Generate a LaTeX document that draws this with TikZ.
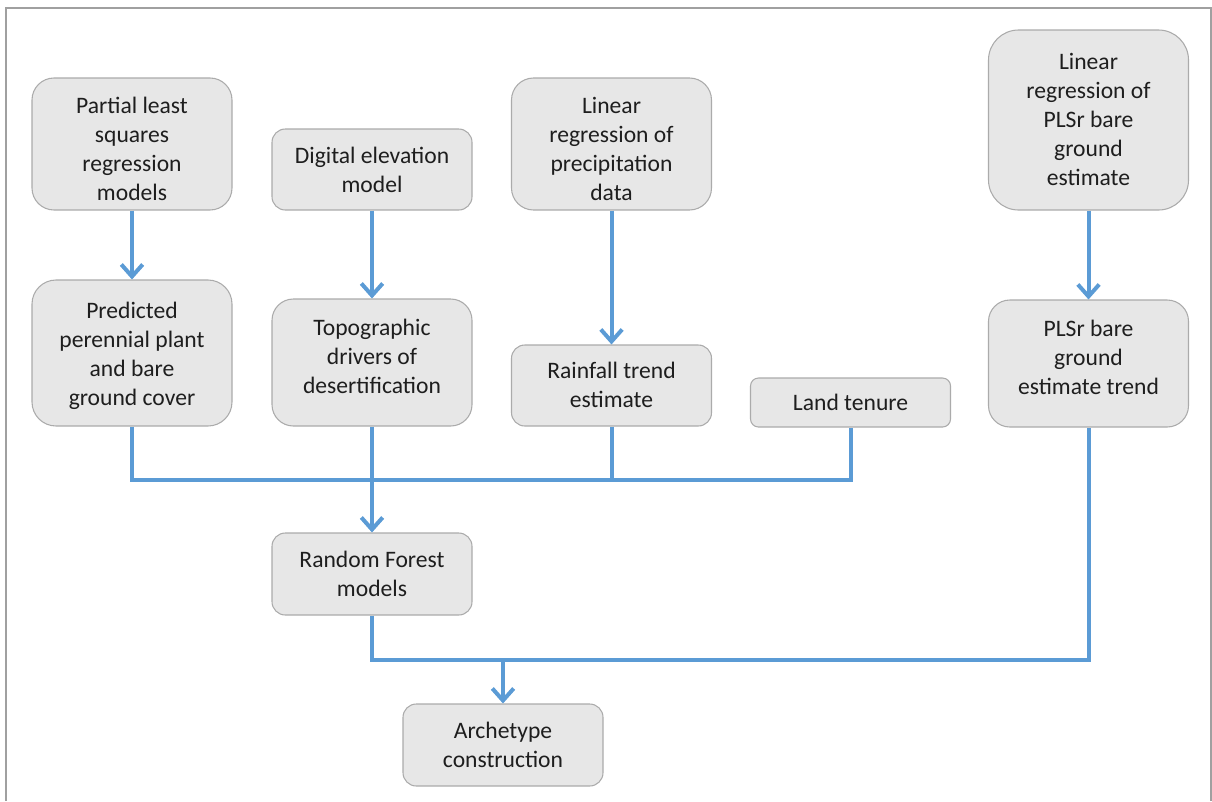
\documentclass[tikz,border=0pt]{standalone}
\usepackage{fontspec}
\setmainfont{Carlito}
\usetikzlibrary{arrows.meta}
\definecolor{boxfill}{HTML}{E7E7E7}
\definecolor{boxline}{HTML}{ABABAB}
\definecolor{flow}{HTML}{5B9BD5}
\definecolor{ink}{HTML}{1E1E1E}
\definecolor{frame}{HTML}{A0A0A0}
\begin{document}
\begin{tikzpicture}[x=0.75pt,y=-0.75pt,
  stepbox/.style={draw=boxline,line width=0.8pt,fill=boxfill,
    minimum width=150pt,inner sep=0pt},
  txt/.style={text=ink,inner sep=0pt,align=center,
    font=\fontsize{17.7pt}{21.75pt}\selectfont},
  % box with its text, the text moved down by the given amount (pt)
  say/.style 2 args={label={[txt,yshift=-#1]center:{#2}}},
  conn/.style={draw=flow,line width=3pt},
  arr/.style={conn,-{Straight Barb[length=9pt,width=16pt]}}]
\useasboundingbox (0,0) rectangle (1212,801);
% outer frame (top, left, right)
\draw[frame,line width=1.2pt] (6,801) -- (6,8) -- (1211,8) -- (1211,801);

% top row
\node[stepbox,minimum height=99pt,rounded corners=16.5pt,
  say={3.75pt}{Partial least\\squares\\regression\\models}] (pls) at (132,144) {};
\node[stepbox,minimum height=60.75pt,rounded corners=10pt,
  say={0pt}{Digital elevation\\model}] (dem) at (372,169.5) {};
\node[stepbox,minimum height=99pt,rounded corners=16.5pt,
  say={3.75pt}{Linear\\regression of\\precipitation\\data}] (lrp) at (611.5,144) {};
\node[stepbox,minimum height=135pt,rounded corners=22.5pt,
  say={-0.75pt}{Linear\\regression of\\PLSr bare\\ground\\estimate}] (lrb) at (1088.5,120) {};

% second row
\node[stepbox,minimum height=109.5pt,rounded corners=18pt,
  say={2.25pt}{Predicted\\perennial plant\\and bare\\ground cover}] (pred) at (132,353) {};
\node[stepbox,minimum height=95.25pt,rounded corners=16pt,
  say={-4.5pt}{Topographic\\drivers of\\desertification}] (topo) at (372,362.5) {};
\node[stepbox,minimum height=60.75pt,rounded corners=10pt,
  say={-0.5pt}{Rainfall trend\\estimate}] (rain) at (611.5,385.5) {};
\node[stepbox,minimum height=36.75pt,rounded corners=6pt,
  say={0pt}{Land tenure}] (land) at (850.5,402.5) {};
\node[stepbox,minimum height=95.25pt,rounded corners=16pt,
  say={-4.5pt}{PLSr bare\\ground\\estimate trend}] (trend) at (1088.5,363.5) {};

% lower rows
\node[stepbox,minimum height=61.5pt,rounded corners=10pt,
  say={0pt}{Random Forest\\models}] (rf) at (372,574) {};
\node[stepbox,minimum height=61.5pt,rounded corners=10pt,
  say={0pt}{Archetype\\construction}] (arch) at (503,745) {};

% junction points
\coordinate (bus) at (372,480);
\coordinate (join) at (503,660);

% vertical feeds
\draw[arr] (pls.south) -- (pred.north);
\draw[arr] (dem.south) -- (topo.north);
\draw[arr] (lrp.south) -- (rain.north);
\draw[arr] (lrb.south) -- (trend.north);

% collector into the Random Forest models
\draw[conn] (pred.south) |- (bus) -| (land.south);
\draw[conn] (rain.south) -- (rain.south |- bus);
\draw[arr] (topo.south) -- (rf.north);

% collector into the archetype construction
\draw[conn] (rf.south) |- (join) -| (trend.south);
\draw[arr] (join) -- (arch.north);
\end{tikzpicture}
\end{document}
